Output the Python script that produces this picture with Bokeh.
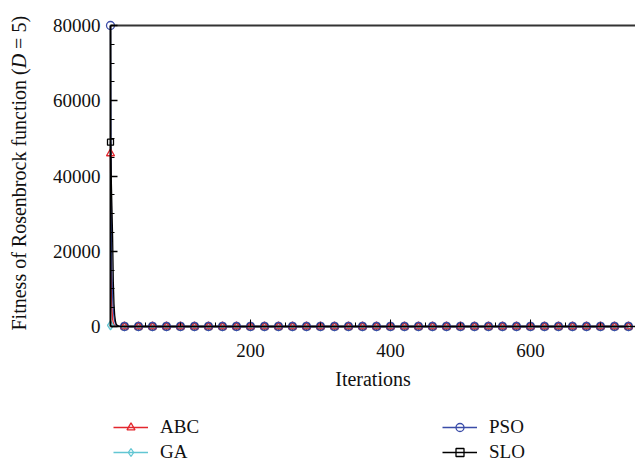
import math
from bokeh.plotting import figure
from bokeh.models import (Range1d, LinearAxis, FixedTicker, Label, Legend,
                          LegendItem, ColumnDataSource)
from bokeh.embed import file_html
from bokeh.resources import INLINE

# ---------------- data ----------------
iterations = [0, 1, 2, 3, 4, 5, 6, 7, 8, 10, 12, 15] + list(range(20, 741, 20))

tail_zero = [0, 0, 0, 0, 0, 0, 0, 0, 0, 0, 0, 0, 0, 0, 0, 0, 0, 0, 0,
             0, 0, 0, 0, 0, 0, 0, 0, 0, 0, 0, 0, 0, 0, 0, 0, 0, 0]

abc_values = [46000, 15000, 5000, 2000, 900, 450, 250, 150, 100, 50, 25, 10] + tail_zero
ga_values = [300, 250, 200, 150, 120, 100, 80, 60, 50, 30, 20, 10] + tail_zero
pso_values = [80000, 30000, 14000, 8000, 4500, 2500, 1400, 800, 400, 150, 60, 20] + tail_zero
slo_values = [49000, 40000, 32000, 24000, 12000, 6000, 3000, 1500, 700, 250, 80, 20] + tail_zero

series_names = ["ABC", "GA", "PSO", "SLO"]
series_colors = ["#e3262d", "#62c6d3", "#3a4ca8", "#000000"]
series_markers = ["triangle", "diamond", "circle", "square"]

x_major_ticks = [200, 400, 600]
x_minor_ticks = [50, 100, 150, 250, 300, 350, 450, 500, 550, 650, 700, 750]
y_major_ticks = [0, 20000, 40000, 60000, 80000]
y_minor_ticks = [5000, 10000, 15000, 25000, 30000, 35000, 45000, 50000, 55000,
                 65000, 70000, 75000]

x_label = "Iterations"
y_label_parts = ["Fitness of Rosenbrock function (", "D", "\u00a0=\u00a05)"]

FONT = "Liberation Serif"
TXT = "#111111"

# ---------------- figure: the frame covers the whole canvas ----------------
p = figure(width=635, height=462, output_backend="svg", toolbar_location=None,
           x_range=Range1d(-157.14, 750), y_range=Range1d(-36146, 86645),
           x_axis_type=None, y_axis_type=None,
           min_border_left=0, min_border_right=0,
           min_border_top=0, min_border_bottom=0)
p.outline_line_color = None

# y axis at x = 0
yaxis = LinearAxis(ticker=FixedTicker(ticks=y_major_ticks, minor_ticks=y_minor_ticks),
                   fixed_location=0, bounds=(0, 80000))
yaxis.major_tick_in = 7
yaxis.major_tick_out = 0
yaxis.minor_tick_in = 4
yaxis.minor_tick_out = 0
yaxis.axis_line_width = 2
yaxis.major_tick_line_width = 1.5
yaxis.major_label_text_font = FONT
yaxis.major_label_text_font_size = "19px"
yaxis.major_label_text_color = TXT
yaxis.major_label_standoff = 10
p.add_layout(yaxis, "left")

# x axis at y = 0
xaxis = LinearAxis(ticker=FixedTicker(ticks=x_major_ticks, minor_ticks=x_minor_ticks),
                   fixed_location=0, bounds=(0, 750))
xaxis.major_tick_in = 7
xaxis.major_tick_out = 0
xaxis.minor_tick_in = 4
xaxis.minor_tick_out = 0
xaxis.axis_line_width = 1.5
xaxis.major_label_text_font = FONT
xaxis.major_label_text_font_size = "19px"
xaxis.major_label_text_color = TXT
xaxis.major_label_standoff = 17
xaxis.axis_label = x_label
xaxis.axis_label_text_font = FONT
xaxis.axis_label_text_font_size = "20px"
xaxis.axis_label_text_font_style = "normal"
xaxis.axis_label_text_color = TXT
xaxis.axis_label_standoff = 8
p.add_layout(xaxis, "below")

# top border line
top = LinearAxis(ticker=FixedTicker(ticks=[]), fixed_location=80000, bounds=(0, 750))
top.major_tick_in = 0
top.major_tick_out = 0
top.minor_tick_in = 0
top.minor_tick_out = 0
top.axis_line_color = "#333333"
top.axis_line_width = 2
top.major_label_text_font_size = "0px"
top.major_label_standoff = 0
p.add_layout(top, "above")

# series
all_values = [abc_values, ga_values, pso_values, slo_values]
line_renderers = {}
marker_renderers = {}
marker_sizes = {"triangle": 8, "diamond": 9, "circle": 8, "square": 6}
for name, vals, color in zip(series_names, all_values, series_colors):
    src = ColumnDataSource(dict(x=iterations, y=vals))
    line_renderers[name] = p.line("x", "y", source=src, line_color=color, line_width=1.3)

draw_order = ["SLO", "GA", "ABC", "PSO"]
for name in draw_order:
    i = series_names.index(name)
    vals = all_values[i]
    mk = series_markers[i]
    mx = [xv for xv in iterations if xv % 20 == 0]
    my = [yv for xv, yv in zip(iterations, vals) if xv % 20 == 0]
    msrc = ColumnDataSource(dict(x=mx, y=my))
    marker_renderers[name] = p.scatter("x", "y", source=msrc, marker=mk,
                                       size=marker_sizes[mk], line_color=series_colors[i],
                                       line_width=1.3, fill_alpha=0)

# legends (two columns)
def make_legend(names, loc):
    items = [LegendItem(label=n, renderers=[line_renderers[n], marker_renderers[n]])
             for n in names]
    lg = Legend(items=items, location=loc, orientation="vertical")
    lg.padding = 0
    lg.margin = 0
    lg.border_line_color = None
    lg.background_fill_alpha = 0
    lg.glyph_width = 35
    lg.glyph_height = 20
    lg.label_height = 20
    lg.label_standoff = 12
    lg.spacing = 3
    lg.label_text_font = FONT
    lg.label_text_font_size = "19px"
    lg.label_text_color = TXT
    return lg

p.add_layout(make_legend(["ABC", "GA"], (113, -1)))
p.add_layout(make_legend(["PSO", "SLO"], (442, -1)))

# y-axis title in pieces (italic D)
y0 = 132
offsets = [0, 262.2, 276.6]
styles = ["normal", "italic", "normal"]
for part, off, st in zip(y_label_parts, offsets, styles):
    p.add_layout(Label(x=18, y=y0 + off, x_units="screen", y_units="screen",
                       text=part, angle=math.pi / 2,
                       text_align="left", text_baseline="middle",
                       text_font=FONT, text_font_size="20px", text_font_style=st,
                       text_color=TXT))

open("out.html", "w").write(file_html(p, INLINE))
